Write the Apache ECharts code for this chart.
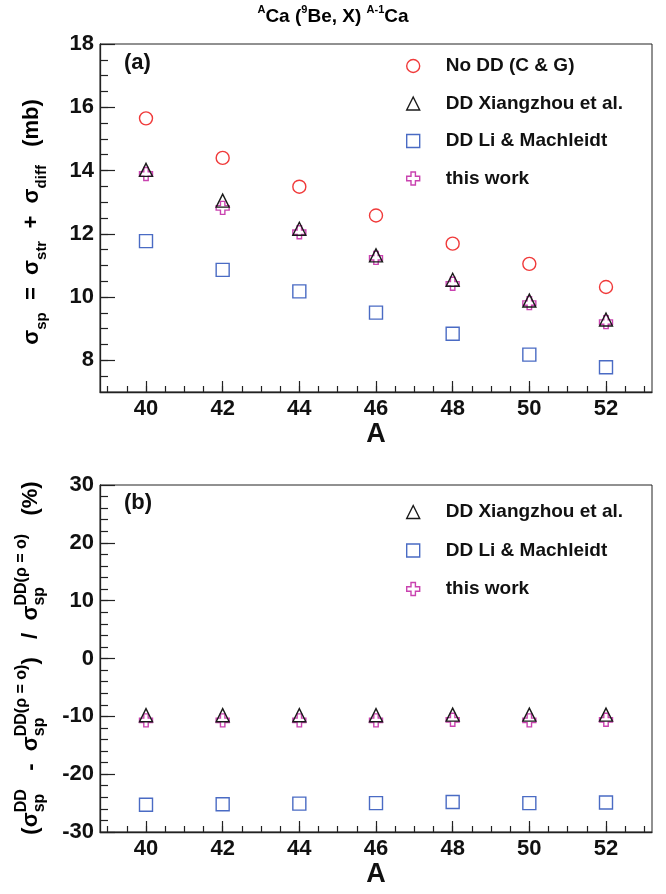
<!DOCTYPE html>
<html>
<head>
<meta charset="utf-8">
<script src="https://cdn.jsdelivr.net/npm/echarts@6/dist/echarts.min.js"></script>
<style>
html,body{margin:0;padding:0;background:#fff;}
#chart{width:666px;height:894px;}
</style>
</head>
<body>
<div id="chart"></div>
<script>
// ---- data ----
var massNumbers = [40, 42, 44, 46, 48, 50, 52];
// panel (a): sigma_sp (mb)
var noDD        = [15.65, 14.40, 13.49, 12.58, 11.69, 11.05, 10.32];
var ddXiangzhou = [14.02, 13.05, 12.16, 11.32, 10.55, 9.89, 9.29];
var ddLiMach    = [11.77, 10.86, 10.18, 9.51, 8.84, 8.18, 7.78];
var thisWork    = [13.89, 12.82, 12.05, 11.24, 10.42, 9.81, 9.21];
// panel (b): relative difference (%)
var pctXiangzhou = [-9.8, -9.8, -9.8, -9.8, -9.7, -9.7, -9.7];
var pctLiMach    = [-25.3, -25.2, -25.1, -25.0, -24.8, -25.0, -24.9];
var pctThisWork  = [-10.7, -10.7, -10.7, -10.7, -10.6, -10.7, -10.6];
// tick labels
var xTicks  = [40, 42, 44, 46, 48, 50, 52];
var yTicksA = [8, 10, 12, 14, 16, 18];
var yTicksB = [-30, -20, -10, 0, 10, 20, 30];
var names = ['No DD (C & G)', 'DD Xiangzhou et al.', 'DD Li & Machleidt', 'this work'];

function range(a, b, s) { var r = []; for (var v = a; v <= b + 1e-9; v += s) r.push(Math.round(v * 100) / 100); return r; }
var xMinor = range(39, 53, 0.5);
var yMinorA = range(7.5, 17.5, 0.5);
var yMinorB = range(-28, 28, 2);

function pairs(xs, ys) { return xs.map(function (x, i) { return [x, ys[i]]; }); }

var FONT = 'Liberation Sans, Arial, Helvetica, sans-serif';
var AX = '#222';
var RED = '#f03a3a', BLUE = '#4a6bc4', BLACK = '#1a1a1a', MAG = '#c943b0';
var CROSS = 'path://M3.3,0 H6.7 V3.3 H10 V6.7 H6.7 V10 H3.3 V6.7 H0 V3.3 H3.3 Z';

function majorX(grid) {
  return {
    type: 'value', gridIndex: grid, min: 38.8, max: 53.2, position: 'bottom',
    axisLine: { show: true, onZero: false, lineStyle: { color: AX, width: 1.3 } },
    axisTick: { show: true, inside: true, length: 11, customValues: xTicks, lineStyle: { color: AX, width: 1.2 } },
    axisLabel: { show: true, customValues: xTicks, fontSize: 22, fontWeight: 'bold', color: '#111', fontFamily: FONT, margin: 6 },
    splitLine: { show: false },
    name: 'A', nameLocation: 'middle', nameGap: 29,
    nameTextStyle: { fontSize: 27, fontWeight: 'bold', color: '#111', fontFamily: FONT }
  };
}
function minorX(grid) {
  return {
    type: 'value', gridIndex: grid, min: 38.8, max: 53.2, position: 'bottom',
    axisLine: { show: false, onZero: false },
    axisTick: { show: true, inside: true, length: 6, customValues: xMinor, lineStyle: { color: AX, width: 1.2 } },
    axisLabel: { show: false }, splitLine: { show: false }
  };
}
function majorY(grid, mn, mx, ticks) {
  return {
    type: 'value', gridIndex: grid, min: mn, max: mx, position: 'left',
    axisLine: { show: true, onZero: false, lineStyle: { color: AX, width: 1.3 } },
    axisTick: { show: true, inside: true, length: 15, customValues: ticks, lineStyle: { color: AX, width: 1.2 } },
    axisLabel: { show: true, customValues: ticks, fontSize: 22, fontWeight: 'bold', color: '#111', fontFamily: FONT, margin: 6 },
    splitLine: { show: false }
  };
}
function minorY(grid, mn, mx, ticks) {
  return {
    type: 'value', gridIndex: grid, min: mn, max: mx, position: 'left', offset: 0,
    axisLine: { show: false, onZero: false },
    axisTick: { show: true, inside: true, length: 8, customValues: ticks, lineStyle: { color: AX, width: 1.2 } },
    axisLabel: { show: false }, splitLine: { show: false }
  };
}
function sc(name, xi, yi, data, symbol, color, size, z) {
  return {
    type: 'scatter', name: name, xAxisIndex: xi, yAxisIndex: yi, data: data,
    symbol: symbol, symbolSize: size, z: z,
    itemStyle: { color: 'rgba(0,0,0,0)', borderColor: color, borderWidth: 1.4, opacity: 1 },
    emphasis: { disabled: true }, animation: false
  };
}

var legendCommon = {
  orient: 'vertical', selectedMode: false, itemWidth: 13, itemHeight: 13, padding: 0,
  itemStyle: { borderWidth: 1.4 },
  textStyle: { fontSize: 19, fontWeight: 'bold', color: '#111', fontFamily: FONT, padding: [0, 0, 0, 21], lineHeight: 20 }
};

var M = { fontSize: 22, fontWeight: 'bold', fontFamily: FONT, color: '#111', align: 'left', lineHeight: 34 };
var S = { fontSize: 15, fontWeight: 'bold', fontFamily: FONT, color: '#111', align: 'left', verticalAlign: 'bottom' };
var P = { fontSize: 16, fontWeight: 'bold', fontFamily: FONT, color: '#111', align: 'left', verticalAlign: 'top' };
var Z = { fontSize: 16, fontWeight: 'bold', fontFamily: FONT, color: '#111', align: 'left', verticalAlign: 'bottom', width: 0 };

var option = {
  backgroundColor: '#fff',
  animation: false,
  grid: [
    { left: 100, right: 14, top: 44, height: 348, show: true, borderColor: AX, borderWidth: 1, backgroundColor: 'transparent' },
    { left: 100, right: 14, top: 485, height: 347, show: true, borderColor: AX, borderWidth: 1, backgroundColor: 'transparent' }
  ],
  xAxis: [majorX(0), minorX(0), majorX(1), minorX(1)],
  yAxis: [majorY(0, 7, 18, yTicksA), minorY(0, 7, 18, yMinorA), majorY(1, -30, 30, yTicksB), minorY(1, -30, 30, yMinorB)],
  legend: [
    Object.assign({}, legendCommon, { left: 406, top: 56, itemGap: 17.5, data: names }),
    Object.assign({}, legendCommon, { left: 406, top: 502, itemGap: 18.5, data: names.slice(1) })
  ],
  series: [
    sc(names[0], 0, 0, pairs(massNumbers, noDD), 'circle', RED, 13, 2),
    sc(names[2], 0, 0, pairs(massNumbers, ddLiMach), 'rect', BLUE, 13, 2),
    sc(names[3], 0, 0, pairs(massNumbers, thisWork), CROSS, MAG, 13, 2),
    sc(names[1], 0, 0, pairs(massNumbers, ddXiangzhou), 'triangle', BLACK, 13, 3),
    sc(names[2], 2, 2, pairs(massNumbers, pctLiMach), 'rect', BLUE, 13, 2),
    sc(names[3], 2, 2, pairs(massNumbers, pctThisWork), CROSS, MAG, 13, 2),
    sc(names[1], 2, 2, pairs(massNumbers, pctXiangzhou), 'triangle', BLACK, 13, 3)
  ],
  graphic: [
    { type: 'text', x: 333, y: 17, style: {
        text: '{p|A}{m|Ca (}{p|9}{m|Be, X) }{p|A-1}{m|Ca}', align: 'center', verticalAlign: 'middle',
        rich: { m: Object.assign({}, M, { fontSize: 19, lineHeight: 26 }), p: Object.assign({}, P, { fontSize: 11 }) } } },
    { type: 'text', x: 124, y: 63, style: { text: '(a)', font: 'bold 22px ' + FONT, fill: '#111', align: 'left', verticalAlign: 'middle' } },
    { type: 'text', x: 124, y: 503, style: { text: '(b)', font: 'bold 22px ' + FONT, fill: '#111', align: 'left', verticalAlign: 'middle' } },
    { type: 'text', x: 32, y: 222, rotation: Math.PI / 2, style: {
        text: '{m|σ}{s|sp}{m|  =  σ}{s|str}{m|  +  σ}{s|diff}{m|   (mb)}', align: 'center', verticalAlign: 'middle',
        rich: { m: M, s: S } } },
    { type: 'text', x: 31, y: 658, rotation: Math.PI / 2, style: {
        text: '{m|(σ}{z|sp}{p|DD}{m|   -  σ}{z|sp}{p|DD(ρ = o)}{m|)   /  σ}{z|sp}{p|DD(ρ = o)}{m|   (%)}', align: 'center', verticalAlign: 'middle',
        rich: { m: M, p: P, z: Z } } }
  ]
};

var chart = echarts.init(document.getElementById('chart'), null, { renderer: 'canvas' });
chart.setOption(option);
</script>
</body>
</html>
